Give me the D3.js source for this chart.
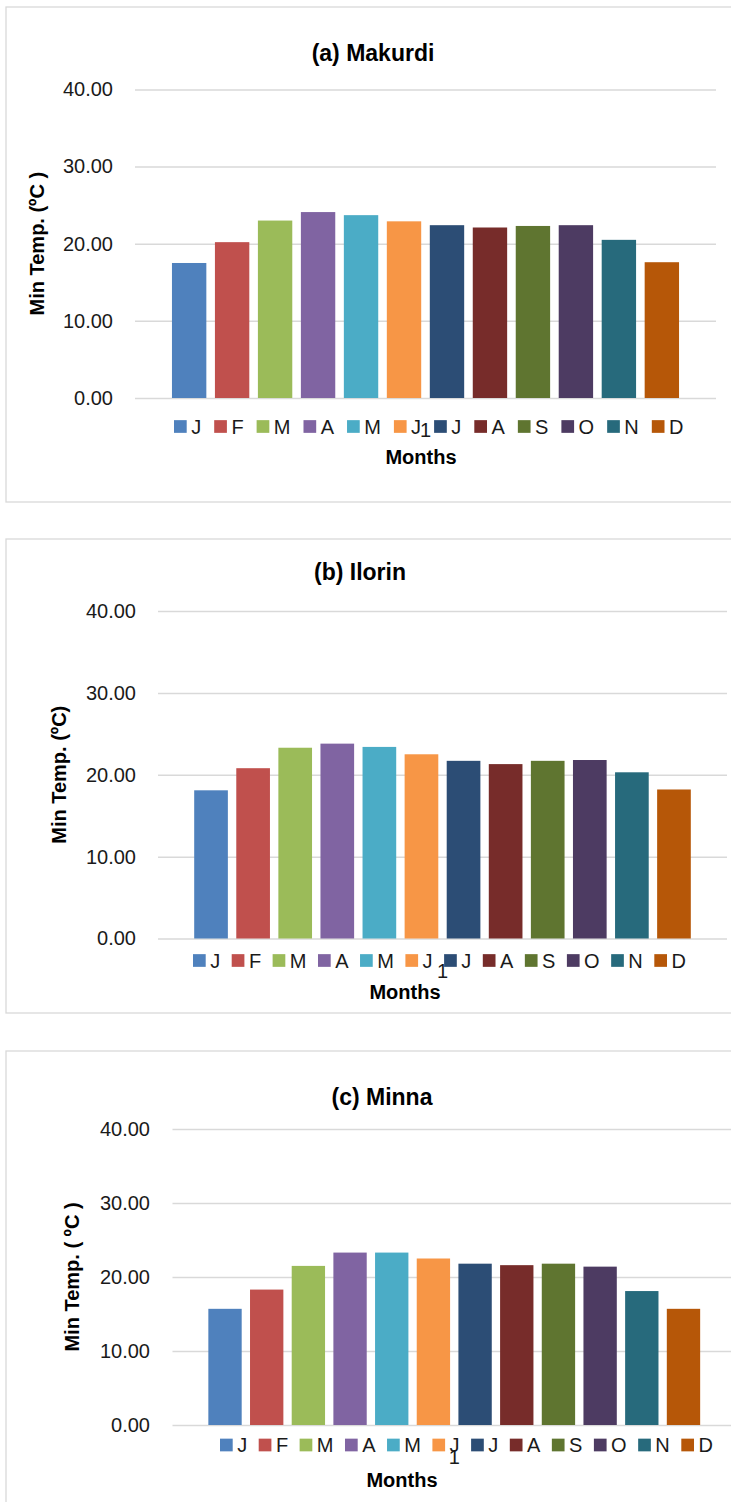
<!DOCTYPE html>
<html>
<head>
<meta charset="utf-8">
<script src="https://cdn.jsdelivr.net/npm/d3@7"></script>
<style>
  html, body { margin: 0; padding: 0; background: #fff; }
  svg { display: block; font-family: "Liberation Sans", Arial, sans-serif; }
</style>
</head>
<body>
<div id="chart"></div>
<script>
'use strict';

// data
const months = ['J', 'F', 'M', 'A', 'M', 'J', 'J', 'A', 'S', 'O', 'N', 'D'];
const makurdi = [17.5, 20.2, 23.0, 24.1, 23.7, 22.9, 22.4, 22.1, 22.3, 22.4, 20.5, 17.6];
const ilorin = [18.1, 20.8, 23.3, 23.8, 23.4, 22.5, 21.7, 21.3, 21.7, 21.8, 20.3, 18.2];
const minna = [15.7, 18.3, 21.5, 23.3, 23.3, 22.5, 21.8, 21.6, 21.8, 21.4, 18.1, 15.7];
const yTicks = [0, 10, 20, 30, 40];
const titles = ['(a) Makurdi', '(b) Ilorin', '(c) Minna'];
const yTitles = ['Min Temp. (\u00baC )', 'Min Temp. (\u00baC)', 'Min Temp. ( \u00baC )'];
const xTitle = 'Months';
const category = '1';

const colors = ['#4f81bd', '#c0504d', '#9bbb59', '#8064a2', '#4bacc6', '#f79646',
  '#2c4d75', '#772c2a', '#5f7530', '#4d3b62', '#276a7c', '#b65708'];

const width = 731;
const height = 1502;

const svg = d3.select('#chart')
  .append('svg')
  .attr('width', width)
  .attr('height', height);

// panel layout (pixel boxes measured on the reference)
const panels = [
  { values: makurdi, box: [6, 7, 760, 495], titleX: 373, titleY: 53,
    plot: [135, 716, 89.4, 398], tickX: 113, yTitleX: 37,
    legendX: 174, legendY: 426.5, legendGap: 13, monthsX: 421, monthsY: 457 },
  { values: ilorin, box: [6, 539, 760, 474], titleX: 360, titleY: 572,
    plot: [158, 727, 611, 938.5], tickX: 136, yTitleX: 59,
    legendX: 193, legendY: 960.5, legendGap: 11.5, monthsX: 405, monthsY: 992 },
  { values: minna, box: [6, 1051, 760, 500], titleX: 382, titleY: 1097,
    plot: [172.5, 736, 1129, 1425], tickX: 150, yTitleX: 72,
    legendX: 220, legendY: 1445, legendGap: 11.5, monthsX: 402, monthsY: 1480 }
];

panels.forEach((p, i) => drawChart(p, i));

function drawChart(p, idx) {
  const [left, right, top, bottom] = p.plot;
  const g = svg.append('g');

  // chart border
  g.append('rect')
    .attr('x', p.box[0])
    .attr('y', p.box[1])
    .attr('width', p.box[2])
    .attr('height', p.box[3])
    .attr('fill', '#fff')
    .attr('stroke', '#d9d9d9')
    .attr('stroke-width', 1.3);

  const scaleY = d3.scaleLinear()
    .domain([0, 40])
    .range([bottom, top]);

  const scaleX = d3.scaleBand()
    .domain(d3.range(months.length))
    .range([left, right])
    .paddingInner(0.2)
    .paddingOuter(0.86);

  // gridlines + labels via axis
  const yAxis = d3.axisLeft(scaleY)
    .tickValues(yTicks)
    .tickFormat(d3.format('.2f'))
    .tickSize(-(right - left))
    .tickPadding(left - p.tickX);

  const ax = g.append('g')
    .attr('transform', `translate(${left},0)`)
    .call(yAxis);
  ax.select('.domain').remove();
  ax.selectAll('line')
    .attr('stroke', '#d9d9d9')
    .attr('stroke-width', 1.5);
  ax.selectAll('text')
    .attr('fill', '#1a1a1a')
    .style('font-size', '20px');

  // bars
  g.selectAll('rect.bar')
    .data(p.values)
    .enter()
    .append('rect')
    .attr('class', 'bar')
    .attr('x', (d, i) => scaleX(i))
    .attr('y', d => scaleY(d))
    .attr('width', scaleX.bandwidth())
    .attr('height', d => scaleY(0) - scaleY(d))
    .attr('fill', (d, i) => colors[i]);

  // category label, half hidden behind the legend
  g.append('text')
    .attr('x', (left + right) / 2)
    .attr('y', bottom + 32)
    .attr('dy', '0.35em')
    .attr('text-anchor', 'middle')
    .style('font-size', '20px')
    .attr('fill', '#1a1a1a')
    .text(category);

  // legend
  const sq = 12.7;
  let x = p.legendX;
  months.forEach((m, i) => {
    const item = g.append('g');
    item.append('rect')
      .attr('x', x)
      .attr('y', p.legendY - sq / 2)
      .attr('width', sq)
      .attr('height', sq)
      .attr('fill', colors[i]);
    const t = item.append('text')
      .attr('x', x + sq + 4.5)
      .attr('y', p.legendY)
      .attr('dy', '0.36em')
      .style('font-size', '20px')
      .attr('fill', '#1a1a1a')
      .text(m);
    x += sq + 4.5 + t.node().getComputedTextLength() + p.legendGap;
  });

  // titles
  g.append('text')
    .attr('x', p.titleX)
    .attr('y', p.titleY)
    .attr('dy', '0.35em')
    .attr('text-anchor', 'middle')
    .style('font-size', '23px')
    .style('font-weight', 'bold')
    .attr('fill', '#000')
    .text(titles[idx]);

  g.append('text')
    .attr('transform', `translate(${p.yTitleX},${(top + bottom) / 2}) rotate(-90)`)
    .attr('dy', '0.35em')
    .attr('text-anchor', 'middle')
    .style('font-size', '20px')
    .style('font-weight', 'bold')
    .attr('fill', '#000')
    .text(yTitles[idx]);

  g.append('text')
    .attr('x', p.monthsX)
    .attr('y', p.monthsY)
    .attr('dy', '0.35em')
    .attr('text-anchor', 'middle')
    .style('font-size', '20px')
    .style('font-weight', 'bold')
    .attr('fill', '#000')
    .text(xTitle);
}
</script>
</body>
</html>
